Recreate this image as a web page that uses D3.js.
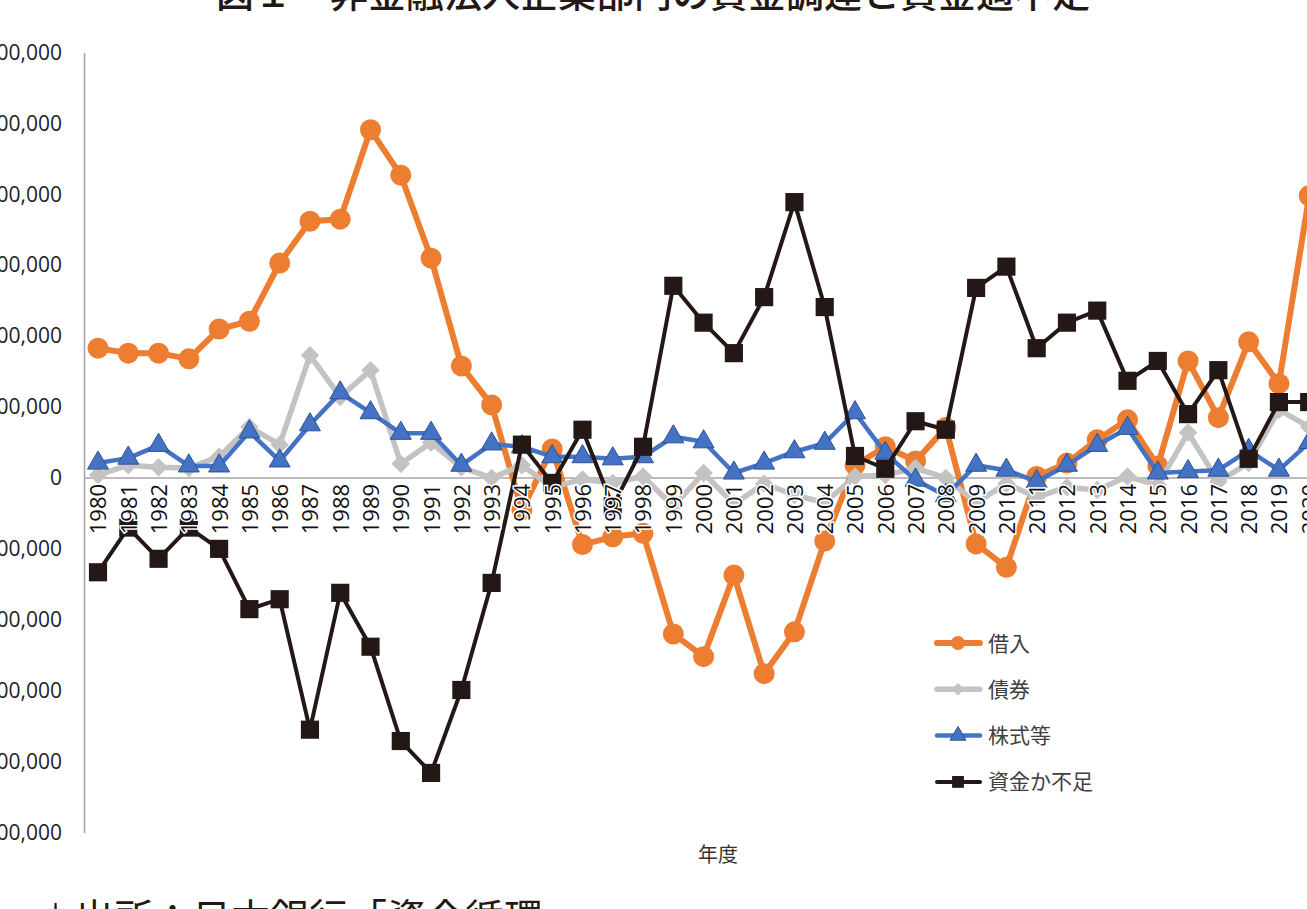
<!DOCTYPE html>
<html>
<head>
<meta charset="utf-8">
<script src="https://cdn.jsdelivr.net/npm/d3@7"></script>
<style>
  body { margin: 0; background: #fff; overflow: hidden; }
</style>
</head>
<body>
<div class="chart"></div>
<script>
// fiscal years
var years = ["1980","1981","1982","1983","1984","1985","1986","1987","1988","1989",
  "1990","1991","1992","1993","1994","1995","1996","1997","1998","1999",
  "2000","2001","2002","2003","2004","2005","2006","2007","2008","2009",
  "2010","2011","2012","2013","2014","2015","2016","2017","2018","2019","2020"];

// 借入
var borrowing = [183000, 176000, 176000, 168000, 210000, 221000, 303000, 362000, 365000, 491000,
  427000, 310000, 158000, 103000, -45000, 41000, -94000, -83000, -78000, -220000,
  -252000, -137000, -276000, -217000, -89000, 18000, 44000, 24000, 71000, -93000,
  -126000, 2000, 21000, 54000, 82000, 17000, 165000, 85000, 192000, 133000, 398000];

// 債券
var bonds = [4000, 18000, 15000, 14000, 30000, 72000, 47000, 173000, 114000, 152000,
  20000, 50000, 15000, 0, 18000, -13000, -2000, -7000, 2000, -40000,
  7000, -37000, -8000, -24000, -35000, 2000, 4000, 14000, 0, -35000,
  -8000, -27000, -13000, -17000, 2000, -10000, 64000, -5000, 21000, 96000, 72000];

// 株式等
var equities = [21000, 28000, 46000, 17000, 17000, 65000, 24000, 75000, 120000, 92000,
  63000, 63000, 18000, 48000, 44000, 30000, 30000, 27000, 30000, 58000,
  51000, 7000, 21000, 37000, 49000, 92000, 35000, -3000, -25000, 18000,
  11000, -5000, 18000, 46000, 70000, 7000, 9000, 11000, 39000, 11000, 50000];

// 資金か不足
var balance = [-133000, -70000, -114000, -70000, -100000, -185000, -171000, -355000, -162000, -238000,
  -371000, -416000, -299000, -148000, 47000, -7000, 68000, -40000, 44000, 271000,
  219000, 176000, 255000, 389000, 241000, 31000, 13000, 80000, 68000, 268000,
  298000, 183000, 219000, 236000, 137000, 165000, 90000, 152000, 27000, 107000, 107000];

var yTicks = [-500000, -400000, -300000, -200000, -100000, 0, 100000, 200000, 300000, 400000, 500000, 600000];

var seriesNames = ["借入", "債券", "株式等", "資金か不足"];

var svgWidth = 1307;
var svgHeight = 909;

var svg = d3.select(".chart")
  .append("svg")
  .attr("width", svgWidth)
  .attr("height", svgHeight);

var step = 30.28;
var x = d3.scalePoint()
  .domain(years)
  .range([98, 98 + step * (years.length - 1)]);

var y = d3.scaleLinear()
  .domain([-500000, 600000])
  .range([832.5, 52.5]);

var series = [
  { name: seriesNames[0], values: borrowing, color: "#ED7D31", width: 6, marker: "circle" },
  { name: seriesNames[1], values: bonds, color: "#C3C3C3", width: 5.5, marker: "diamond" },
  { name: seriesNames[2], values: equities, color: "#4472C4", width: 4.5, marker: "triangle" },
  { name: seriesNames[3], values: balance, color: "#231815", width: 4, marker: "square" }
];

function markerPath(type) {
  if (type === "diamond") return d3.symbol(d3.symbolSquare, 170)();
  if (type === "triangle") return d3.symbol(d3.symbolTriangle, 190)();
  if (type === "square") return d3.symbol(d3.symbolSquare, 330)();
  return null;
}

function drawMarker(g, s, px, py) {
  if (s.marker === "circle") {
    g.append("circle")
      .attr("cx", px).attr("cy", py).attr("r", 10.5)
      .attr("fill", s.color);
  } else {
    var rot = s.marker === "diamond" ? " rotate(45)" : "";
    g.append("path")
      .attr("d", markerPath(s.marker))
      .attr("transform", "translate(" + px + "," + py + ")" + rot)
      .attr("fill", s.color)
      .attr("stroke", s.marker === "triangle" ? "#2F528F" : "none")
      .attr("stroke-width", 1);
  }
}

// y axis
var yAxis = svg.append("g")
  .attr("transform", "translate(84,0)")
  .call(d3.axisLeft(y)
    .tickValues(yTicks)
    .tickSize(0)
    .tickPadding(22)
    .tickFormat(function(d) { return d3.format(",")(d).replace("−", "-"); }));

yAxis.select(".domain")
  .attr("stroke", "#A6A6A6")
  .attr("stroke-width", 1.6);

yAxis.selectAll("text")
  .attr("font-family", "'Open Sans', sans-serif")
  .attr("font-size", 21)
  .attr("fill", "#222");

// zero line
svg.append("line")
  .attr("x1", 84)
  .attr("x2", svgWidth)
  .attr("y1", y(0))
  .attr("y2", y(0))
  .attr("stroke", "#A6A6A6")
  .attr("stroke-width", 1.6);

// line generator
var line = d3.line()
  .x(function(d, i) { return x(years[i]); })
  .y(function(d) { return y(d); });

series.forEach(function(s) {
  var g = svg.append("g");
  g.append("path")
    .attr("d", line(s.values))
    .attr("fill", "none")
    .attr("stroke", s.color)
    .attr("stroke-width", s.width)
    .attr("stroke-linejoin", "round");
  s.values.forEach(function(v, i) {
    drawMarker(g, s, x(years[i]), y(v));
  });
});

// category labels sit on top of the lines with a white halo
var xAxis = svg.append("g")
  .attr("transform", "translate(0," + y(0) + ")")
  .call(d3.axisBottom(x).tickSize(0));

xAxis.select(".domain").remove();

xAxis.selectAll("text")
  .attr("transform", "rotate(-90)")
  .attr("x", -6)
  .attr("y", 0)
  .attr("dy", "0.36em")
  .attr("text-anchor", "end")
  .attr("font-family", "'Open Sans', sans-serif")
  .attr("font-size", 22)
  .attr("fill", "#111")
  .attr("stroke", "#fff")
  .attr("stroke-width", 3)
  .attr("paint-order", "stroke");

// axis title
svg.append("text")
  .attr("x", 718)
  .attr("y", 862)
  .attr("text-anchor", "middle")
  .attr("font-family", "'Noto Sans CJK JP', sans-serif")
  .attr("font-size", 20)
  .attr("fill", "#333")
  .text("年度");

// legend
var legend = svg.append("g");
series.forEach(function(s, i) {
  var ly = 643 + i * 46.3;
  legend.append("line")
    .attr("x1", 937).attr("x2", 980)
    .attr("y1", ly).attr("y2", ly)
    .attr("stroke", s.color)
    .attr("stroke-width", s.width)
    .attr("stroke-linecap", "round");
  if (s.marker === "circle") {
    legend.append("circle").attr("cx", 958).attr("cy", ly).attr("r", 7).attr("fill", s.color);
  } else {
    var size = s.marker === "square" ? 140 : (s.marker === "triangle" ? 110 : 80);
    var sym = s.marker === "triangle" ? d3.symbolTriangle : d3.symbolSquare;
    legend.append("path")
      .attr("d", d3.symbol(sym, size)())
      .attr("transform", "translate(958," + ly + ")" + (s.marker === "diamond" ? " rotate(45)" : ""))
      .attr("fill", s.color)
      .attr("stroke", s.marker === "triangle" ? "#2F528F" : "none");
  }
  legend.append("text")
    .attr("x", 988)
    .attr("y", ly)
    .attr("dy", "0.36em")
    .attr("font-family", "'Noto Sans CJK JP', sans-serif")
    .attr("font-size", 21)
    .attr("fill", "#404040")
    .text(s.name);
});

// title (cut at the top of the picture)
svg.append("text")
  .attr("x", 216)
  .attr("y", 7)
  .attr("font-family", "'Noto Sans CJK JP', sans-serif")
  .attr("font-size", 38)
  .attr("font-weight", 500)
  .attr("fill", "#231815")
  .text("図１　非金融法人企業部門の資金調達と資金過不足");

// source note (cut at the bottom)
svg.append("text")
  .attr("x", 36)
  .attr("y", 932)
  .attr("font-family", "'Noto Sans CJK JP', sans-serif")
  .attr("font-size", 39)
  .attr("fill", "#231815")
  .text("＊出所：日本銀行「資金循環」");
</script>
</body>
</html>
